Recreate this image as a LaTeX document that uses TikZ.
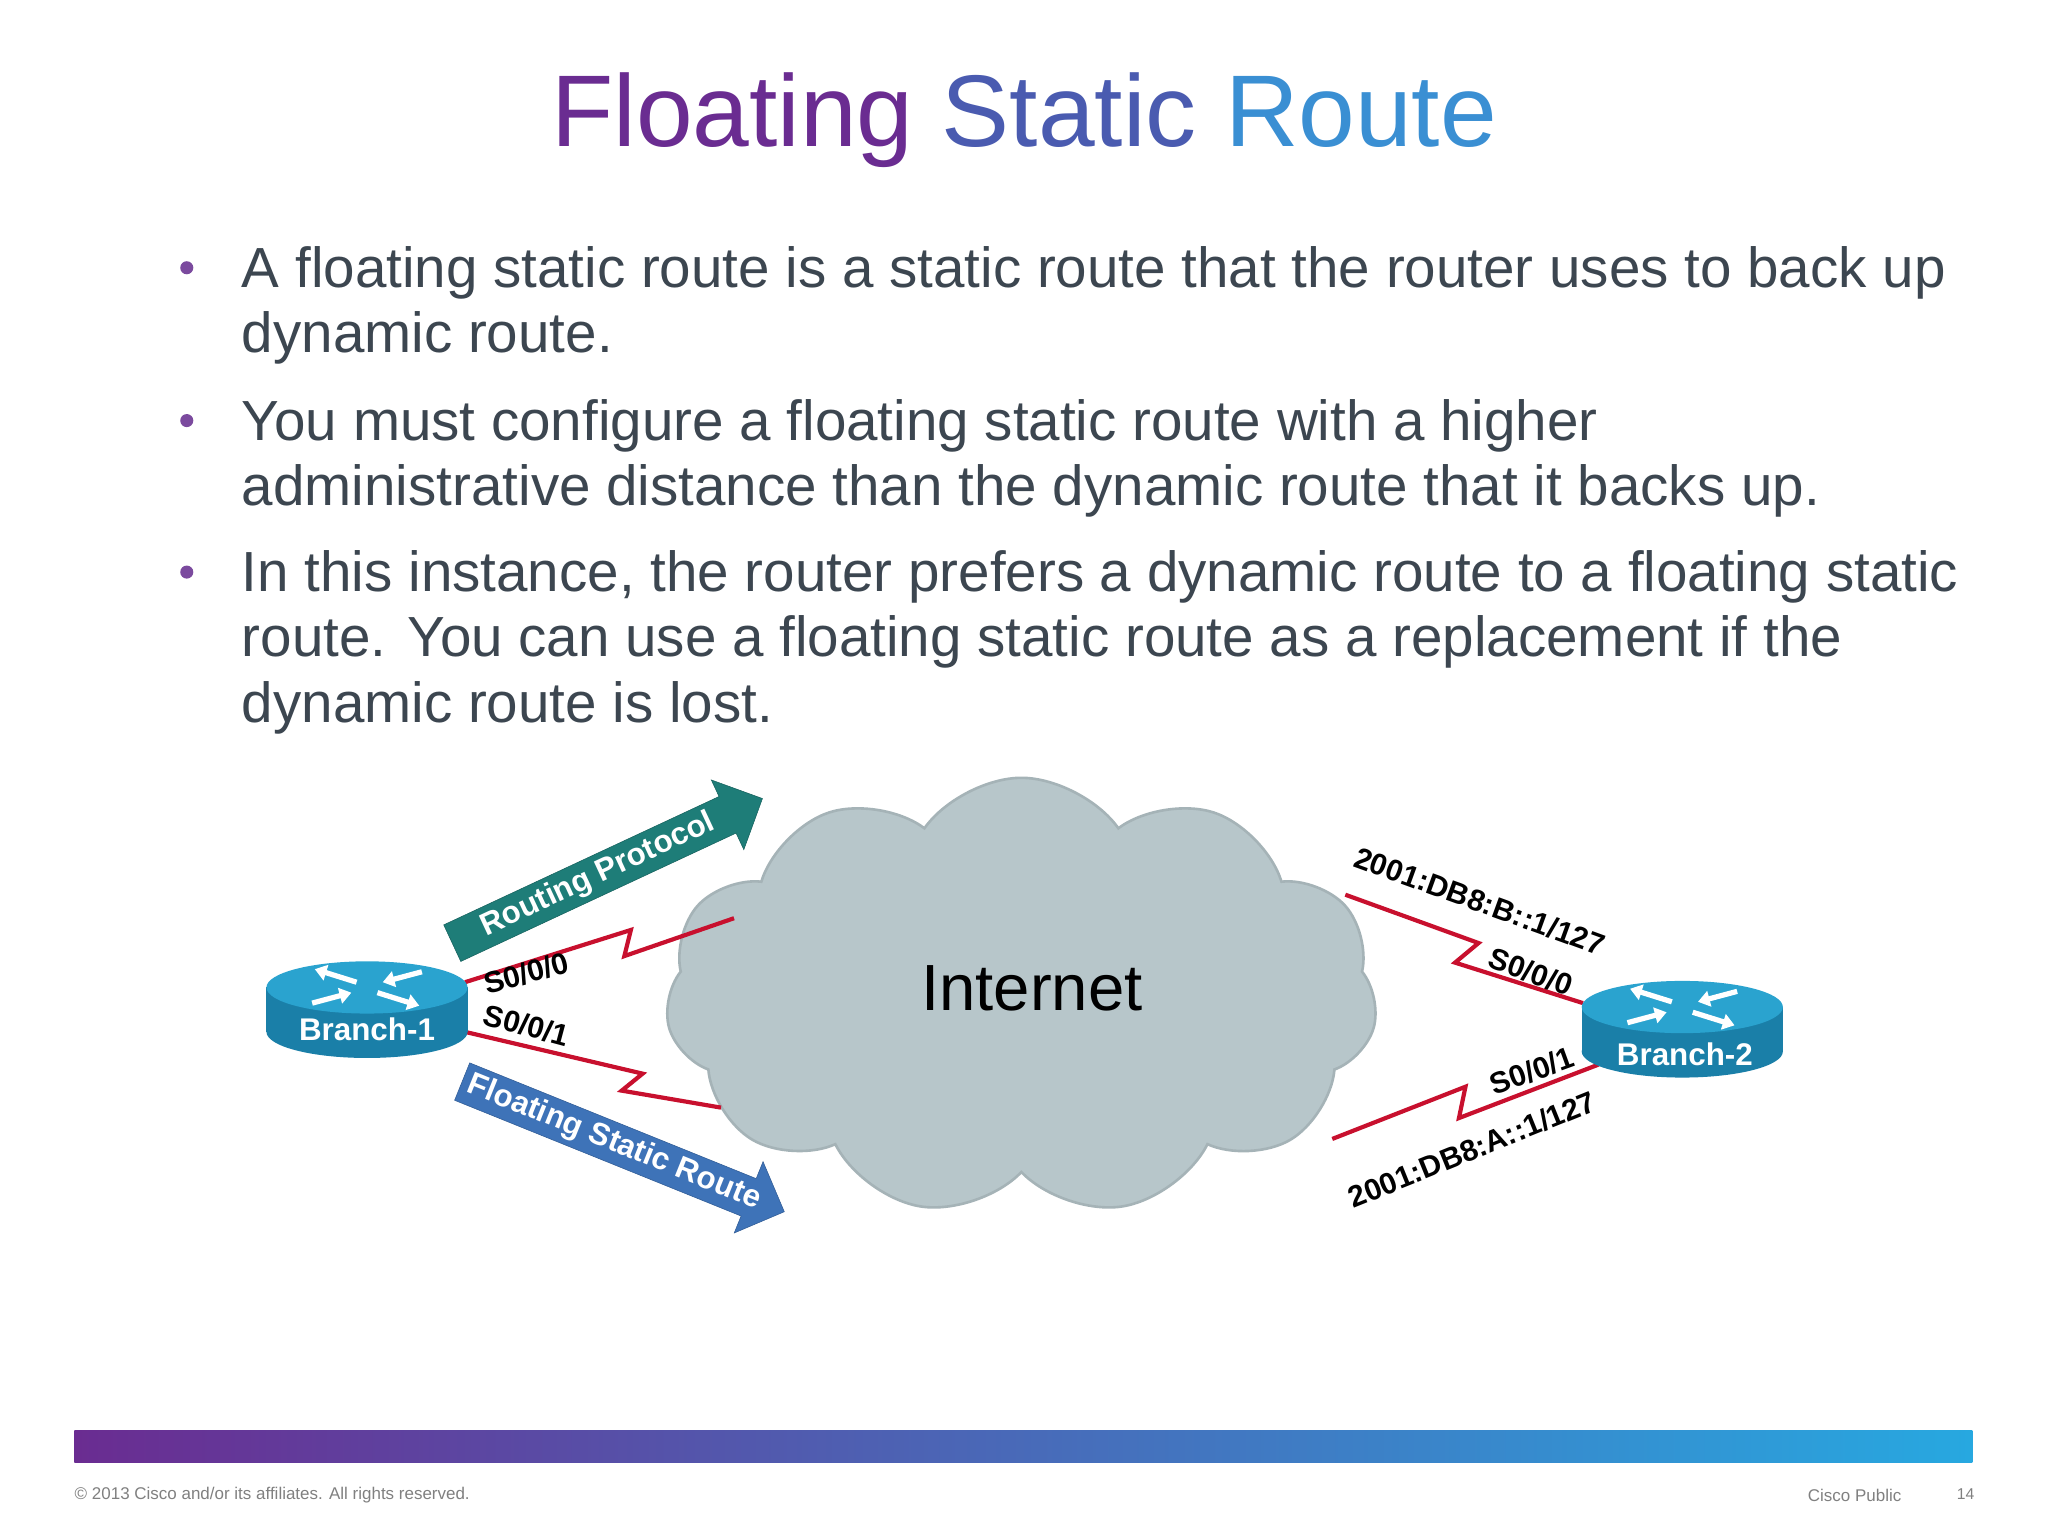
\documentclass[tikz,border=0pt]{standalone}
\usepackage{fontspec}
\setmainfont{Liberation Sans}
\usetikzlibrary{shapes.symbols,shapes.arrows,arrows.meta}
\definecolor{txt}{HTML}{3C4650}
\definecolor{bul}{HTML}{7B4A9E}
\definecolor{linkred}{HTML}{C8102E}
\definecolor{rbody}{HTML}{1A7FA8}
\definecolor{rtop}{HTML}{2AA3CF}
\definecolor{cloudf}{HTML}{B7C6CA}
\definecolor{cloudd}{HTML}{A5B3B7}
\definecolor{grf}{HTML}{1E7D78}
\definecolor{grd}{HTML}{14605C}
\definecolor{blf}{HTML}{3E73B8}
\definecolor{bld}{HTML}{2E5A94}
\definecolor{barA}{HTML}{6A2C91}
\definecolor{barB}{HTML}{1E3F8F}
\definecolor{barC}{HTML}{27A8E0}
\tikzset{
 line/.style={anchor=base west,text=txt,font=\fontsize{43.3}{48}\selectfont,inner sep=0},
 bdot/.style={circle,fill=bul,minimum size=10,inner sep=0},
 lab/.style={font=\bfseries\fontsize{23}{26}\selectfont,inner sep=1},
 serial/.style={draw=linkred,line width=3.2,line join=miter},
 rname/.style={text=white,font=\bfseries\fontsize{24}{28}\selectfont},
 pics/router/.style={code={
   \fill[rbody] (-77,-12) rectangle (77,22);
   \fill[rbody] (0,22) ellipse (77 and 20);
   \fill[rtop] (0,-12) ellipse (77 and 20);
   \draw[white,line width=4,-{Triangle[length=9,width=12]}] (-8,-16)--(-40,-26);
   \draw[white,line width=4,-{Triangle[length=9,width=12]}] (8,-8)--(40,2);
   \draw[white,line width=4,-{Triangle[length=9,width=12]}] (-42,0)--(-12,-8);
   \draw[white,line width=4,-{Triangle[length=9,width=12]}] (42,-24)--(12,-16);
 }}
}
\begin{document}
\begin{tikzpicture}[x=1pt,y=-1pt]
\useasboundingbox (0,0) rectangle (1568,1176);
\fill[white] (0,0) rectangle (1568,1176);
% title
\node (title) at (784,92) {\fontsize{78}{84}\selectfont\textcolor[HTML]{6A2C91}{Floating} \textcolor[HTML]{4A5BB0}{Static} \textcolor[HTML]{3A8FD3}{Route}};
% bullets
\node[bdot] (b1) at (143,205) {};
\node[bdot] (b2) at (143,322) {};
\node[bdot] (b3) at (143,438) {};
\node[line] (l1) at (185,220) {A floating static route is a static route that the router uses to back up};
\node[line] (l2) at (185,270) {dynamic route.};
\node[line] (l3) at (185,337) {You must configure a floating static route with a higher};
\node[line] (l4) at (185,387) {administrative distance than the dynamic route that it backs up.};
\node[line] (l5) at (185,453) {In this instance, the router prefers a dynamic route to a floating static};
\node[line] (l6) at (185,503) {route. You can use a floating static route as a replacement if the};
\node[line] (l7) at (185,553) {dynamic route is lost.};
% cloud
\node[cloud,cloud puffs=11,cloud puff arc=110,aspect=1.6,fill=cloudf,draw=cloudd,line width=2,minimum width=545,minimum height=335] (cloud) at (782,763) {};
\node[font=\fontsize{50}{56}\selectfont] (inet) at (790,757) {Internet};
% links
\draw[serial] (356,752)--(483,712)--(478,732)--(562,703);
\draw[serial] (356,790)--(492,822)--(476,835)--(552,848);
\draw[serial] (1030,685)--(1132,722)--(1114,737)--(1212,768);
\draw[serial] (1020,872)--(1122,832)--(1117,856)--(1224,815);
% arrows
\node[single arrow,fill=grf,draw=grd,single arrow head extend=14,minimum height=262,minimum width=46,rotate=25,text=white,font=\bfseries\fontsize{24}{28}\selectfont,inner sep=4] (rp) at (458,670) {Routing Protocol};
\node[single arrow,fill=blf,draw=bld,single arrow head extend=14,minimum height=266,minimum width=46,rotate=-22,text=white,font=\bfseries\fontsize{24}{28}\selectfont,inner sep=4] (fs) at (470,875) {Floating Static Route};
% routers
\pic at (281,768) {router};
\node[rname] (br1) at (281,788) {Branch-1};
\pic at (1288,783) {router};
\node[rname] (br2) at (1290,807) {Branch-2};
% labels
\node[lab,rotate=15] (s1) at (403,745) {S0/0/0};
\node[lab,rotate=-15] (s2) at (403,785) {S0/0/1};
\node[lab,rotate=-20] (ip1) at (1133,690) {2001:DB8:B::1/127};
\node[lab,rotate=-20] (s3) at (1172,744) {S0/0/0};
\node[lab,rotate=20] (s4) at (1173,820) {S0/0/1};
\node[lab,rotate=22] (ip2) at (1127,880) {2001:DB8:A::1/127};
% bottom bar
\shade[left color=barA,middle color=barB,right color=barC] (57,1095) rectangle (1510,1120);
\node[anchor=west,text=gray,font=\fontsize{13}{15}\selectfont,inner sep=0] (copy) at (57,1145) {© 2013 Cisco and/or its affiliates. All rights reserved.};
\node[anchor=west,text=gray,font=\fontsize{13}{15}\selectfont,inner sep=0] (pub) at (1384,1145) {Cisco Public};
\node[anchor=west,text=gray,font=\fontsize{12}{14}\selectfont,inner sep=0] (pg) at (1498,1144) {14};
\end{tikzpicture}
\end{document}
